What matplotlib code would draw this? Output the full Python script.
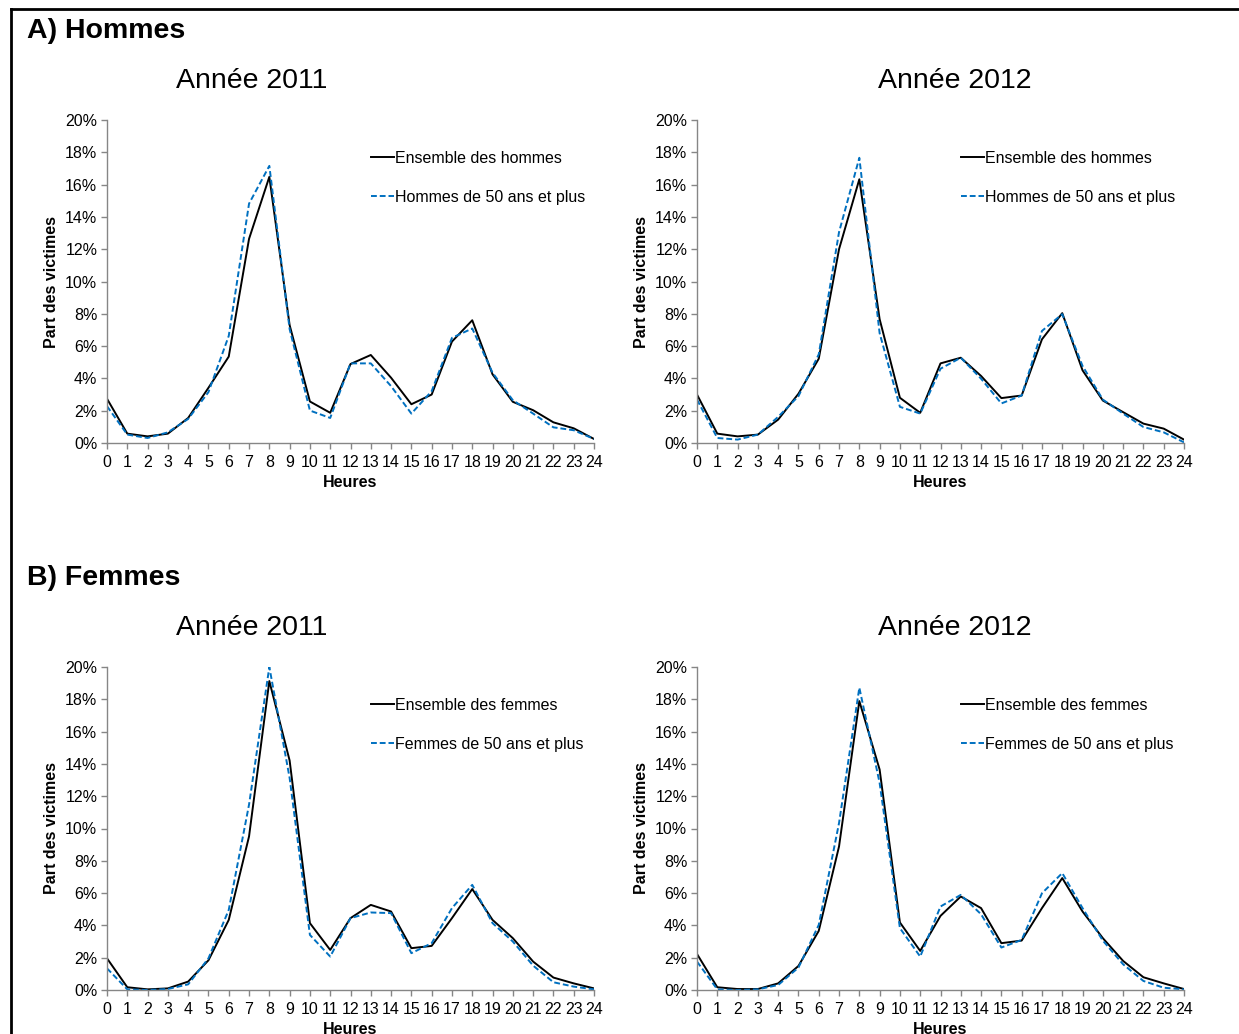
import numpy as np
import matplotlib as mpl
mpl.use('Agg')
import matplotlib.pyplot as plt
from matplotlib.lines import Line2D
from matplotlib.ticker import FuncFormatter

plt.rcParams['font.family'] = ['Liberation Sans', 'DejaVu Sans']

#~~~~~~~~ Data (part des victimes, %) ~~~~~~~~
heures = list(range(25))

hommes_2011 = [2.74, 0.58, 0.41, 0.58, 1.55, 3.42, 5.35, 12.64, 16.48, 7.30, 2.57, 1.87, 4.89,
               5.45, 4.04, 2.40, 3.00, 6.28, 7.60, 4.25, 2.55, 2.03, 1.28, 0.91, 0.25]
hommes50_2011 = [2.28, 0.52, 0.31, 0.66, 1.49, 3.15, 6.63, 14.82, 17.16, 7.05, 2.01, 1.55, 4.93,
                 4.93, 3.52, 1.82, 3.21, 6.51, 7.09, 4.35, 2.65, 1.82, 0.97, 0.79, 0.25]

hommes_2012 = [3.00, 0.58, 0.41, 0.52, 1.45, 3.05, 5.22, 12.00, 16.33, 7.67, 2.80, 1.87, 4.93,
               5.28, 4.15, 2.78, 2.94, 6.42, 8.04, 4.50, 2.63, 1.91, 1.20, 0.89, 0.21]
hommes50_2012 = [2.69, 0.31, 0.21, 0.52, 1.62, 2.90, 5.49, 13.06, 17.66, 6.80, 2.24, 1.82, 4.60,
                 5.28, 3.98, 2.45, 2.94, 6.94, 7.98, 4.77, 2.69, 1.82, 0.99, 0.66, 0.04]

femmes_2011 = [1.96, 0.17, 0.04, 0.10, 0.52, 1.84, 4.34, 9.51, 19.13, 14.21, 4.14, 2.48, 4.45,
               5.27, 4.86, 2.59, 2.73, 4.45, 6.25, 4.34, 3.21, 1.76, 0.77, 0.41, 0.10]
femmes50_2011 = [1.34, 0.04, 0.00, 0.06, 0.35, 1.96, 4.96, 11.48, 20.00, 13.13, 3.41, 2.07, 4.45,
                 4.80, 4.76, 2.28, 2.90, 5.07, 6.51, 4.14, 3.00, 1.51, 0.48, 0.21, 0.04]

femmes_2012 = [2.23, 0.17, 0.06, 0.06, 0.41, 1.49, 3.66, 8.89, 17.89, 13.65, 4.18, 2.42, 4.59,
               5.79, 5.07, 2.90, 3.06, 5.07, 6.93, 4.86, 3.21, 1.80, 0.79, 0.41, 0.06]
femmes50_2012 = [1.76, 0.04, 0.00, 0.04, 0.31, 1.39, 4.03, 10.34, 18.72, 12.82, 3.83, 2.07, 5.17,
                 5.89, 4.69, 2.63, 3.10, 5.99, 7.24, 5.07, 3.06, 1.59, 0.56, 0.14, 0.04]
#~~~~~~~~~~~~~~~~~~~~~~~~~~~~~~~~~~~~~~~~~~~~~

W, H = 1239, 1034
fig = plt.figure(figsize=(W / 100, H / 100), dpi=100)

grey = '#868686'
blue = '#0070C0'
fs = 11.5

panels = [
    (107, 120, hommes_2011, hommes50_2011, 'Ensemble des hommes', 'Hommes de 50 ans et plus'),
    (697, 120, hommes_2012, hommes50_2012, 'Ensemble des hommes', 'Hommes de 50 ans et plus'),
    (107, 667, femmes_2011, femmes50_2011, 'Ensemble des femmes', 'Femmes de 50 ans et plus'),
    (697, 667, femmes_2012, femmes50_2012, 'Ensemble des femmes', 'Femmes de 50 ans et plus'),
]

for x0, y0, ens, age, lab1, lab2 in panels:
    ax = fig.add_axes([x0 / W, 1 - (y0 + 323) / H, 487 / W, 323 / H])
    ax.plot(heures, ens, color='black', lw=1.4, label=lab1)
    ax.plot(heures, age, color=blue, lw=1.4, ls=(0, (3, 1.5)), label=lab2)
    ax.set_xlim(0, 24)
    ax.set_ylim(0, 20)
    ax.set_xticks(heures)
    ax.set_yticks(np.arange(0, 21, 2))
    ax.yaxis.set_major_formatter(FuncFormatter(lambda v, p: '%d%%' % v))
    for s in ['top', 'right']:
        ax.spines[s].set_visible(False)
    for s in ['left', 'bottom']:
        ax.spines[s].set_color(grey)
        ax.spines[s].set_linewidth(1.0)
    ax.tick_params(colors=grey, labelcolor='black', labelsize=fs, length=4, width=1.0)
    ax.tick_params(axis='x', pad=4.5)
    ax.tick_params(axis='y', pad=3)
    ax.set_xlabel('Heures', fontsize=fs, fontweight='bold', labelpad=4)
    ax.set_ylabel('Part des victimes', fontsize=fs, fontweight='bold', labelpad=4)
    ax.legend(loc='upper left', bbox_to_anchor=(0.543, 0.905), frameon=False, fontsize=fs,
              borderaxespad=0, borderpad=0, handlelength=1.4, handletextpad=0.1,
              labelspacing=1.5)
    ax.margins(0)

# Titles
fig.text(27 / W, 1 - 31 / H, 'A) Hommes', fontsize=20.5, fontweight='bold', ha='left', va='center')
fig.text(27 / W, 1 - 578 / H, 'B) Femmes', fontsize=20.5, fontweight='bold', ha='left', va='center')
for cx, cy, t in [(252, 81, 'Année 2011'), (955, 81, 'Année 2012'),
                  (252, 628, 'Année 2011'), (955, 628, 'Année 2012')]:
    fig.text(cx / W, 1 - cy / H, t, fontsize=20.5, ha='center', va='center')

# frame border (top and left)
fig.add_artist(Line2D([11 / W, 11 / W], [0, 1 - 9 / H], color='black', lw=2, transform=fig.transFigure))
fig.add_artist(Line2D([11 / W, 1], [1 - 9 / H, 1 - 9 / H], color='black', lw=2, transform=fig.transFigure))

fig.savefig('out.png', dpi=100)
